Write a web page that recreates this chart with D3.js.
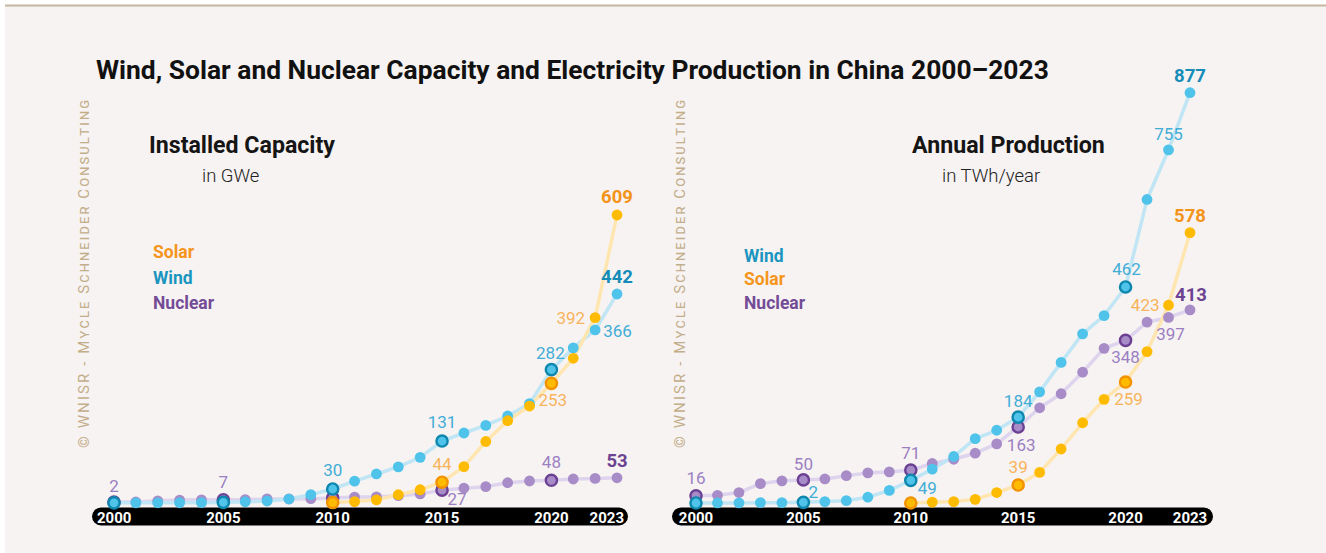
<!DOCTYPE html>
<html><head><meta charset="utf-8">
<script src="https://cdn.jsdelivr.net/npm/d3@7"></script>
<style>body{margin:0;background:#fff}svg{display:block}</style>
</head><body><svg id="c" width="1326" height="553"></svg>
<script>
// ---------- DATA ----------
const years = [2000,2001,2002,2003,2004,2005,2006,2007,2008,2009,2010,2011,2012,2013,2014,2015,2016,2017,2018,2019,2020,2021,2022,2023];
const tickYears = [2000,2005,2010,2015,2020,2023];
const highlightYears = [2000,2005,2010,2015,2020];

// Installed capacity, GWe
const capWind    = [0.34,0.4,0.47,0.57,0.76,1.26,2.6,4.2,8.4,17.6,29.6,46.2,61.4,76.5,96.6,131,148,164,184,210,282,328,366,442];
const capSolar   = [null,null,null,null,null,null,null,null,null,null,0.9,3.0,6.7,17.5,28,44,77,130,174,205,253,306,392,609];
const capNuclear = [2.1,2.1,4.5,6.1,6.7,7.0,7.0,8.6,8.6,9.1,10.8,12.5,12.9,15.4,19.1,27.2,31.4,34.6,42.9,46.5,48.0,50.8,52.0,53.3];

// Annual production, TWh/year
const genWind    = [0.6,0.7,0.9,1.3,1.3,2.0,3.7,5.7,13,27.6,49,73,100,138,156,184,238,301,362,401,462,649,755,877];
const genSolar   = [null,null,null,null,null,null,null,null,null,null,0.7,2.5,3.6,8.4,23,39,66,116,172,222,259,324,423,578];
const genNuclear = [16,17,23,42,48,50,52,59,65,67,71,85,94,107,127,163,204,234,280,331,348,387,397,413];

// Labelled points [series, year, bold]
const capLabels = [["nuclear",2000,0],["nuclear",2005,0],["wind",2010,0],["wind",2015,0],["solar",2015,0],["nuclear",2015,0],
  ["nuclear",2020,0],["wind",2020,0],["solar",2020,0],["solar",2022,0],["wind",2022,0],["solar",2023,1],["wind",2023,1],["nuclear",2023,1]];
const genLabels = [["nuclear",2000,0],["nuclear",2005,0],["wind",2005,0],["nuclear",2010,0],["wind",2010,0],["solar",2015,0],["wind",2015,0],
  ["nuclear",2015,0],["wind",2020,0],["nuclear",2020,0],["solar",2020,0],["solar",2022,0],["nuclear",2022,0],["wind",2022,0],
  ["wind",2023,1],["solar",2023,1],["nuclear",2023,1]];

const capLegend = ["Solar","Wind","Nuclear"];
const genLegend = ["Wind","Solar","Nuclear"];

// ---------- STYLE / LAYOUT ----------
const FONT = "Roboto, 'Noto Sans', sans-serif";
const col = {
  wind:    {pt:"#4fc3ea", line:"#c0e5f4", ring:"#0e87ae", lab:"#42add7", bold:"#168cb8", leg:"#1a95c0"},
  solar:   {pt:"#ffbb00", line:"#ffe6b0", ring:"#f39200", lab:"#f8b45c", bold:"#f4931a", leg:"#f5951c"},
  nuclear: {pt:"#a78cc7", line:"#ded4ee", ring:"#6c4093", lab:"#9b80c2", bold:"#6c4390", leg:"#744b96"}
};
const offs = {
  cap: {
    "nuclear-2000":[0,-10,"middle"],"nuclear-2005":[0,-12,"middle"],"wind-2010":[0,-13,"middle"],"wind-2015":[0,-13,"middle"],
    "solar-2015":[0,-12,"middle"],"nuclear-2015":[15,15,"middle"],"nuclear-2020":[0,-12,"middle"],"wind-2020":[-1,-11,"middle"],
    "solar-2020":[-13,23,"start"],"solar-2022":[-10,6,"end"],"wind-2022":[8,7,"start"],"solar-2023":[0,-12,"middle"],
    "wind-2023":[0,-11,"middle"],"nuclear-2023":[0,-11,"middle"]
  },
  gen: {
    "nuclear-2000":[0,-12,"middle"],"nuclear-2005":[0,-10,"middle"],"wind-2005":[10,-4,"middle"],"nuclear-2010":[0,-11,"middle"],
    "wind-2010":[7,14,"start"],"solar-2015":[0,-12,"middle"],"wind-2015":[0,-10,"middle"],"nuclear-2015":[3,24,"middle"],
    "wind-2020":[1,-12,"middle"],"nuclear-2020":[0,23,"middle"],"solar-2020":[3,23,"middle"],"solar-2022":[-9,6,"end"],
    "nuclear-2022":[2,23,"middle"],"wind-2022":[0,-10,"middle"],"wind-2023":[0,-11,"middle"],"solar-2023":[0,-11,"middle"],
    "nuclear-2023":[1,-9,"middle"]
  }
};

const svg = d3.select("#c");
svg.append("rect").attr("x",5).attr("y",5).attr("width",1321).attr("height",548).attr("fill","#f7f3f2");
svg.append("rect").attr("x",5).attr("y",4.5).attr("width",1321).attr("height",2).attr("fill","#c6b49f");

function fitText(sel, target){
  const fs = parseFloat(sel.attr("font-size"));
  const w = sel.node().getComputedTextLength();
  sel.attr("font-size", (fs*target/w).toFixed(2));
}

const title = svg.append("text").attr("x",96).attr("y",79).attr("font-family",FONT).attr("font-weight",700)
  .attr("font-size",24).attr("fill","#111").text("Wind, Solar and Nuclear Capacity and Electricity Production in China 2000–2023");
fitText(title, 953);

function watermark(cx){
  svg.append("text").attr("transform",`translate(${cx+5.5},448) rotate(-90)`)
    .attr("font-family",FONT).attr("font-size",15).attr("font-weight",400).style("font-variant","small-caps")
    .attr("fill","#c3ae8b").attr("textLength",348).attr("lengthAdjust","spacing")
    .text("© WNISR - Mycle Schneider Consulting");
}

function panel(cfg){
  const g = svg.append("g");
  const x = d3.scaleLinear().domain([2000,2023]).range(cfg.xr);
  const y = d3.scaleLinear().domain([0,cfg.ymax]).range(cfg.yr);
  const series = {wind:cfg.wind, solar:cfg.solar, nuclear:cfg.nuclear};
  const order = ["nuclear","wind","solar"];

  watermark(cfg.wmx);

  // titles
  const t1 = g.append("text").attr("x",cfg.tx).attr("y",153).attr("font-family",FONT).attr("font-weight",700)
    .attr("font-size",22).attr("fill","#151515").text(cfg.title);
  fitText(t1, cfg.tw);
  g.append("text").attr("x",cfg.sx).attr("y",181.5).attr("font-family",FONT).attr("font-weight",300)
    .attr("font-size",18.5).attr("fill","#222").text(cfg.sub);

  // legend
  cfg.legend.forEach((name,i)=>{
    g.append("text").attr("x",cfg.lx).attr("y",cfg.ly + i*cfg.lstep).attr("font-family",FONT).attr("font-weight",700)
      .attr("font-size",17.5).attr("fill",col[name.toLowerCase()].leg).text(name);
  });

  // axis bar
  const [x0,x1] = cfg.bar;
  g.append("rect").attr("x",x0).attr("y",507.5).attr("width",x1-x0).attr("height",18).attr("rx",9).attr("fill","#000");
  g.selectAll(".tick").data(tickYears).join("text")
    .attr("y",522.5).attr("text-anchor","middle").attr("font-family",FONT)
    .attr("font-weight",700).attr("font-size",15).attr("fill","#fff").text(d=>d)
    .attr("x",function(d){
      const hw = this.getComputedTextLength()/2;
      return Math.max(x0+5+hw, Math.min(x(d), x1-4-hw));
    });

  // lines
  order.forEach(s=>{
    const pts = years.map((yr,i)=>[yr,series[s][i]]).filter(d=>d[1]!=null);
    g.append("path").datum(pts).attr("fill","none").attr("stroke",col[s].line).attr("stroke-width",3.5)
      .attr("stroke-linejoin","round").attr("d",d3.line().x(d=>x(d[0])).y(d=>y(d[1])));
  });
  // points
  order.forEach(s=>{
    const pts = years.map((yr,i)=>[yr,series[s][i]]).filter(d=>d[1]!=null);
    g.selectAll(null).data(pts).join("circle")
      .attr("cx",d=>x(d[0])).attr("cy",d=>y(d[1]))
      .attr("r",d=>highlightYears.includes(d[0])?5.6:5.4)
      .attr("fill",col[s].pt)
      .attr("stroke",d=>highlightYears.includes(d[0])?col[s].ring:"none")
      .attr("stroke-width",2.4);
  });
  // labels
  cfg.labels.forEach(([s,yr,bold])=>{
    const v = series[s][years.indexOf(yr)];
    const o = cfg.offs[`${s}-${yr}`];
    g.append("text").attr("x",x(yr)+o[0]).attr("y",y(v)+o[1]).attr("text-anchor",o[2])
      .attr("font-family",FONT).attr("font-weight",bold?700:400).attr("font-size",bold?18.5:17)
      .attr("fill",bold?col[s].bold:col[s].lab).text(Math.round(v));
  });
}

panel({xr:[114,617], yr:[503,215], ymax:609, wind:capWind, solar:capSolar, nuclear:capNuclear,
  labels:capLabels, offs:offs.cap, legend:capLegend, lx:153, ly:258, lstep:25.5, bar:[92,628], wmx:83,
  title:"Installed Capacity", tx:149, tw:186, sub:"in GWe", sx:202});
panel({xr:[696,1190], yr:[503.3,92.7], ymax:877, wind:genWind, solar:genSolar, nuclear:genNuclear,
  labels:genLabels, offs:offs.gen, legend:genLegend, lx:744, ly:261.5, lstep:23.5, bar:[672,1213], wmx:679,
  title:"Annual Production", tx:912, tw:193, sub:"in TWh/year", sx:942});
</script></body></html>
